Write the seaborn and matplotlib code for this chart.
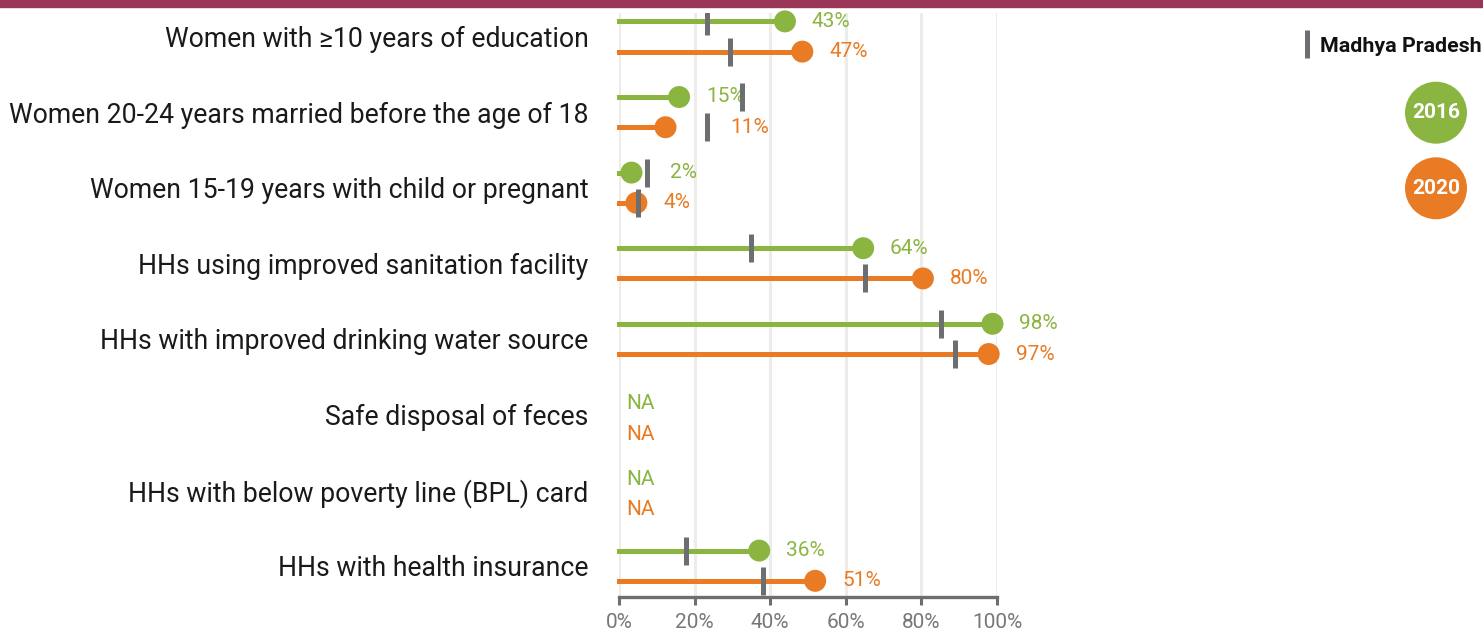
import numpy as np
import pandas as pd
import matplotlib
matplotlib.use("Agg")
import matplotlib.pyplot as plt
import seaborn as sns
from matplotlib.patches import Rectangle

categories = [
    "Women with \u226510 years of education",
    "Women 20-24 years married before the age of 18",
    "Women 15-19 years with child or pregnant",
    "HHs using improved sanitation facility",
    "HHs with improved drinking water source",
    "Safe disposal of feces",
    "HHs with below poverty line (BPL) card",
    "HHs with health insurance",
]
val_2016 = [43.9, 15.9, 3.3, 64.6, 98.8, np.nan, np.nan, 37.1]
val_2020 = [48.5, 12.3, 4.6, 80.4, 97.8, np.nan, np.nan, 51.9]
lab_2016 = ["43%", "15%", "2%", "64%", "98%", "NA", "NA", "36%"]
lab_2020 = ["47%", "11%", "4%", "80%", "97%", "NA", "NA", "51%"]
state_2016 = [23.3, 32.5, 7.3, 34.8, 85.1, np.nan, np.nan, 17.7]
state_2020 = [29.4, 23.3, 5.1, 65.2, 88.8, np.nan, np.nan, 38.2]
state_name = "Madhya Pradesh"
x_ticks = [0, 20, 40, 60, 80, 100]

GREEN = "#8AB541"
ORANGE = "#E87B24"
GREY = "#6D6E71"

sns.set_theme(style="white")
plt.rcParams["font.family"] = ["Roboto", "DejaVu Sans"]

fig = plt.figure(figsize=(14.83, 6.35), dpi=100)
ax = fig.add_axes([619 / 1483, 38.3 / 635, 378 / 1483, 584 / 635])

# long table for seaborn
rows = []
for i, c in enumerate(categories):
    rows.append(dict(cat=c, year="2016", y=i - 0.2, value=val_2016[i], state=state_2016[i], label=lab_2016[i]))
    rows.append(dict(cat=c, year="2020", y=i + 0.2, value=val_2020[i], state=state_2020[i], label=lab_2020[i]))
df = pd.DataFrame(rows)
colors = {"2016": GREEN, "2020": ORANGE}

for _, r in df.iterrows():
    col = colors[r["year"]]
    if np.isnan(r["value"]):
        ax.text(2, r["y"] + 0.06, r["label"], color=col, fontsize=15, va="center", ha="left")
        continue
    ax.hlines(r["y"], 0, r["value"], color=col, linewidth=3.6, zorder=2, clip_on=False,
              capstyle="projecting")
    # label position: after the dot, or after the state tick if that sits just right of the dot
    lx = r["value"] + 7.1
    if 0 < r["state"] - r["value"] < 12:
        lx = max(lx, r["state"] + 6.1)
    ax.text(lx, r["y"], r["label"], color=col, fontsize=15, va="center", ha="left", zorder=4)
    ax.vlines(r["state"], r["y"] - 0.185, r["y"] + 0.185, color=GREY, linewidth=3.6, zorder=5)

sns.scatterplot(data=df.dropna(), x="value", y="y", hue="year", palette=colors, s=250,
                linewidth=0, legend=False, ax=ax, zorder=3, clip_on=False)

ax.set_xlim(0, 100)
ax.set_ylim(7.41, -0.315)
ax.set_xticks(x_ticks)
ax.set_xticklabels([f"{v}%" for v in x_ticks])
ax.set_yticks(range(len(categories)))
ax.set_yticklabels(categories)
ax.set_xlabel("")
ax.set_ylabel("")
ax.grid(axis="x", color="#EEECE8", linewidth=2.2)
ax.grid(axis="y", visible=False)
ax.set_axisbelow(True)
for s in ["top", "left", "right"]:
    ax.spines[s].set_visible(False)
ax.spines["bottom"].set_color(GREY)
ax.spines["bottom"].set_linewidth(2.4)
ax.tick_params(axis="x", length=5.8, width=2.2, color=GREY, labelcolor="#777777", labelsize=15, pad=6,
               bottom=True)
ax.tick_params(axis="y", length=0, pad=22, labelsize=19.2, labelcolor="#1A1A1A")

# top bar
fig.patches.append(Rectangle((0, 628.3 / 635), 1, 6.7 / 635, transform=fig.transFigure,
                             color="#993657", zorder=0))

# legend
lax = fig.add_axes([1290 / 1483, (635 - 230) / 635, 193 / 1483, 210 / 635])
lax.vlines(1307, 30, 58, color=GREY, linewidth=3.6)
lax.text(1320, 47, state_name, fontsize=15.4, fontweight="bold", color="#111111", va="center", ha="left")
leg = pd.DataFrame({"x": [1436, 1436], "y": [112.7, 188.3], "year": ["2016", "2020"]})
sns.scatterplot(data=leg, x="x", y="y", hue="year", palette=colors, s=1990, linewidth=0,
                legend=False, ax=lax, clip_on=False)
for _, r in leg.iterrows():
    lax.text(r["x"], r["y"], r["year"], color="white", fontsize=15, fontweight="bold",
             ha="center", va="center")
lax.set_xlim(1290, 1483)
lax.set_ylim(230, 20)
lax.axis("off")

fig.savefig("out.png", dpi=100)
